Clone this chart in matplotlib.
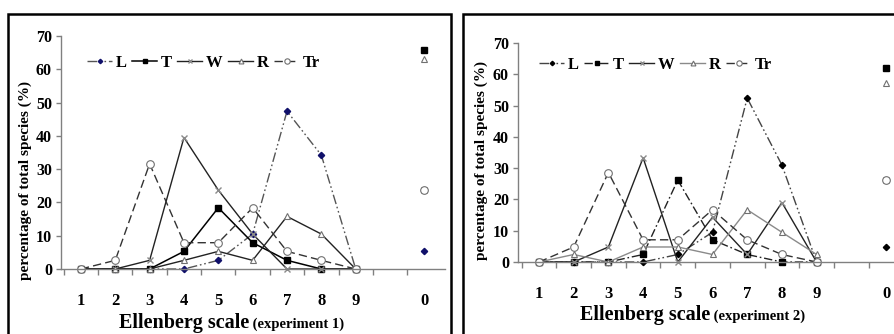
import matplotlib
matplotlib.use('Agg')
import matplotlib.pyplot as plt
import numpy as np
from matplotlib.patches import Rectangle

# ---------------- data ----------------
categories = ['1', '2', '3', '4', '5', '6', '7', '8', '9', '', '0']
series_names = ['L', 'T', 'W', 'R', 'Tr']
nan = np.nan

# experiment 1 (percentage of total species)
exp1_L = [0, 0, 0, 0, 2.6, 10.5, 47.4, 34.2, 0, nan, 5.3]
exp1_T = [0, 0, 0, 5.3, 18.4, 7.9, 2.6, 0, 0, nan, 65.8]
exp1_W = [0, 0, 2.6, 39.5, 23.7, 10.5, 0, 0, 0, nan, 23.7]
exp1_R = [0, 0, 0, 2.6, 5.3, 2.6, 15.8, 10.5, 0, nan, 63.2]
exp1_Tr = [0, 2.6, 31.6, 7.9, 7.9, 18.4, 5.3, 2.6, 0, nan, 23.7]

# experiment 2
exp2_L = [0, 0, 0, 0, 2.4, 9.5, 52.4, 31.0, 0, nan, 4.8]
exp2_T = [0, 0, 0, 2.4, 26.2, 7.1, 2.4, 0, 0, nan, 61.9]
exp2_W = [0, 0, 4.8, 33.3, 0, 14.3, 2.4, 19.0, 0, nan, 26.2]
exp2_R = [0, 2.4, 0, 4.8, 4.8, 2.4, 16.7, 9.5, 2.4, nan, 57.1]
exp2_Tr = [0, 4.8, 28.6, 7.1, 7.1, 16.7, 7.1, 2.4, 0, nan, 26.2]

yticks = [0, 10, 20, 30, 40, 50, 60, 70]
ylabel = 'percentage of total species (%)'
xlabel_main = 'Ellenberg scale'
xlabel_sub1 = ' (experiment 1)'
xlabel_sub2 = ' (experiment 2)'

# ---------------- figure ----------------
W_PX, H_PX = 894, 334
fig = plt.figure(figsize=(W_PX / 100, H_PX / 100), dpi=100)
plt.rcParams['font.family'] = ['Liberation Serif', 'DejaVu Serif']
plt.rcParams['font.weight'] = 'bold'

def fx(px):
    return px / W_PX

def fy(py):
    return 1 - py / H_PX

# panel borders
fig.patches.append(Rectangle((fx(8), fy(340)), fx(451) - fx(8), fy(14) - fy(340),
                             transform=fig.transFigure, fill=False, lw=1.8,
                             edgecolor='black', zorder=0))
fig.patches.append(Rectangle((fx(463), fy(340)), fx(900) - fx(463), fy(14) - fy(340),
                             transform=fig.transFigure, fill=False, lw=1.8,
                             edgecolor='black', zorder=0))

x = np.arange(1, len(categories) + 1)
axis_col = '#808080'

styles1 = {
    'L': dict(ls=(0, (7, 2, 1.2, 2, 1.2, 2)), color='#555555', lw=1.0, marker='D',
              ms=3.2, mfc='#10106a', mec='#10106a'),
    'T': dict(ls='-', color='black', lw=1.1, marker='s', ms=5, mfc='black', mec='black'),
    'W': dict(ls='-', color='#222222', lw=1.0, marker='x', ms=5, mec='#8a8a8a', mew=1.0),
    'R': dict(ls='-', color='#222222', lw=1.0, marker='^', ms=5, mfc='white', mec='#707070', mew=0.8),
    'Tr': dict(ls=(0, (6, 3)), color='#333333', lw=1.0, marker='o', ms=5.5, mfc='white', mec='#707070', mew=0.8),
}
styles2 = {
    'L': dict(ls=(0, (7, 2, 1.2, 2, 1.2, 2)), color='#444444', lw=1.0, marker='D',
              ms=3.2, mfc='black', mec='black'),
    'T': dict(ls=(0, (6, 2, 1.2, 2)), color='#222222', lw=1.0, marker='s', ms=5, mfc='black', mec='black'),
    'W': dict(ls='-', color='#222222', lw=1.0, marker='x', ms=5, mec='#8a8a8a', mew=1.0),
    'R': dict(ls='-', color='#8a8a8a', lw=1.0, marker='^', ms=5, mfc='white', mec='#707070', mew=0.8),
    'Tr': dict(ls=(0, (6, 3)), color='#333333', lw=1.0, marker='o', ms=5.5, mfc='white', mec='#707070', mew=0.8),
}

panels = [
    dict(data=[exp1_L, exp1_T, exp1_W, exp1_R, exp1_Tr], styles=styles1,
         ax_px=(61, 445, 36, 269), xlim=(0.42, 11.6), legend_px=(87, 63),
         ylab_px=(25, 180), xl_join=249, xl_base=328, sub=xlabel_sub1),
    dict(data=[exp2_L, exp2_T, exp2_W, exp2_R, exp2_Tr], styles=styles2,
         ax_px=(518, 894, 43, 262), xlim=(0.395, 11.23), legend_px=(539, 65),
         ylab_px=(481, 161), xl_join=710, xl_base=320, sub=xlabel_sub2),
]

for p in panels:
    l, r, t, b = p['ax_px']
    ax = fig.add_axes([fx(l), fy(b), fx(r) - fx(l), fy(t) - fy(b)])
    ax.patch.set_alpha(0)
    handles = []
    for name, vals in zip(series_names, p['data']):
        h, = ax.plot(x, vals, label=name, clip_on=False, **p['styles'][name])
        handles.append(h)
    ax.set_xlim(*p['xlim'])
    ax.set_ylim(0, 70)
    for s in ['top', 'right']:
        ax.spines[s].set_visible(False)
    for s in ['left', 'bottom']:
        ax.spines[s].set_color(axis_col)
        ax.spines[s].set_linewidth(1.0)
    ax.set_yticks(yticks)
    ax.set_yticklabels([str(v) for v in yticks], fontsize=11.5, fontweight='bold')
    ax.tick_params(axis='y', length=3.5, width=1.0, color=axis_col, pad=3)
    ax.set_xticks(x)
    ax.set_xticklabels(categories, fontsize=12, fontweight='bold')
    ax.tick_params(axis='x', which='major', length=0, pad=17)
    ax.set_xticks(np.arange(0.5, len(categories), 1.0), minor=True)
    ax.tick_params(axis='x', which='minor', length=4, width=1.0, color=axis_col, direction='out')

    leg = ax.legend(handles=handles, ncol=5, frameon=False, loc='center left',
                    bbox_to_anchor=(fx(p['legend_px'][0]), fy(p['legend_px'][1])),
                    bbox_transform=fig.transFigure, handlelength=1.5,
                    handletextpad=0.2, columnspacing=0.35, borderpad=0, borderaxespad=0,
                    markerscale=0.7,
                    prop=dict(family='Liberation Serif', weight='bold', size=12))

    fig.text(fx(p['ylab_px'][0]), fy(p['ylab_px'][1]), ylabel, rotation=90,
             ha='center', va='center', fontsize=11, fontweight='bold')
    fig.text(fx(p['xl_join']), fy(p['xl_base']), xlabel_main, ha='right', va='baseline',
             fontsize=14.5, fontweight='bold')
    fig.text(fx(p['xl_join']), fy(p['xl_base']), p['sub'], ha='left', va='baseline',
             fontsize=10.5, fontweight='bold')

fig.savefig('out.png', dpi=100)
